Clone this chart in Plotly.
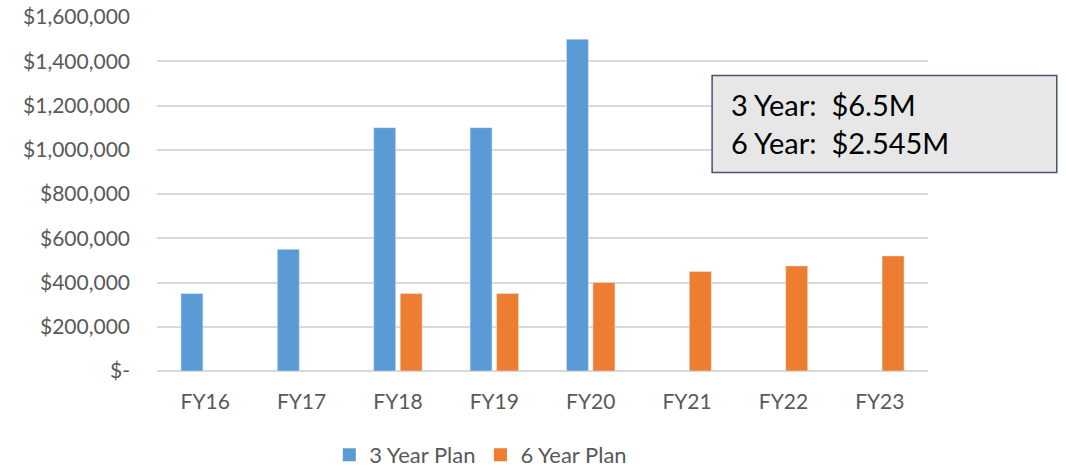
import plotly.graph_objects as go

# Fiscal years and planned funding per plan
years = ["FY16", "FY17", "FY18", "FY19", "FY20", "FY21", "FY22", "FY23"]
plan_3yr = [350000, 550000, 1100000, 1100000, 1500000, None, None, None]
plan_6yr = [None, None, 350000, 350000, 400000, 450000, 475000, 520000]
y_ticks = [0, 200000, 400000, 600000, 800000, 1000000, 1200000, 1400000, 1600000]
y_tick_text = ["$-", "$200,000", "$400,000", "$600,000", "$800,000",
               "$1,000,000", "$1,200,000", "$1,400,000", "$1,600,000"]
summary_lines = ["3 Year:  $6.5M", "6 Year:  $2.545M"]

FONT = "Lato"
TICK_COLOR = "#595959"
BLUE = "#5b9bd5"
ORANGE = "#ed7d31"

fig = go.Figure()
fig.add_trace(go.Bar(name="3 Year Plan", x=years, y=plan_3yr, marker_color=BLUE,
                     showlegend=False))
fig.add_trace(go.Bar(name="6 Year Plan", x=years, y=plan_6yr, marker_color=ORANGE,
                     showlegend=False))

# Square swatches for the legend
for name, color in [("3 Year Plan", BLUE), ("6 Year Plan", ORANGE)]:
    fig.add_trace(go.Scatter(name=name, x=[None], y=[None], mode="markers",
                             marker=dict(symbol="square", size=13, color=color),
                             showlegend=True))

fig.update_layout(
    width=1066, height=469,
    margin=dict(l=157, r=138, t=17, b=98, autoexpand=False),
    paper_bgcolor="white", plot_bgcolor="white",
    barmode="group", bargap=0.45, bargroupgap=0.17,
    font=dict(family=FONT, size=21, color=TICK_COLOR),
    showlegend=True,
    legend=dict(orientation="h", x=0.42, xanchor="center",
                yref="container", y=0.03, yanchor="middle",
                font=dict(family=FONT, size=22, color=TICK_COLOR),
                itemwidth=30, traceorder="normal", tracegroupgap=0),
    shapes=[dict(type="rect", xref="paper", yref="paper",
                 x0=0.72, x1=1.167, y0=0.561, y1=0.835,
                 fillcolor="#e7e7e7", line=dict(color="#44546a", width=1.5))],
    annotations=[dict(xref="paper", yref="paper", x=0.742, y=0.698,
                      xanchor="left", yanchor="middle", align="left", showarrow=False,
                      text="<br>".join(summary_lines),
                      font=dict(family=FONT, size=29, color="#000000"))],
)

fig.update_xaxes(showgrid=False, showline=False, ticks="", ticklabelstandoff=16,
                 tickfont=dict(family=FONT, size=21, color=TICK_COLOR))
fig.update_yaxes(range=[0, 1600000], tickvals=y_ticks, ticktext=y_tick_text,
                 showgrid=True, gridcolor="#d9d9d9", gridwidth=1.5,
                 zeroline=True, zerolinecolor="#d9d9d9", zerolinewidth=1.5,
                 showline=False, ticks="", ticklabelstandoff=26,
                 tickfont=dict(family=FONT, size=21, color=TICK_COLOR))

fig.write_html("out.html")
